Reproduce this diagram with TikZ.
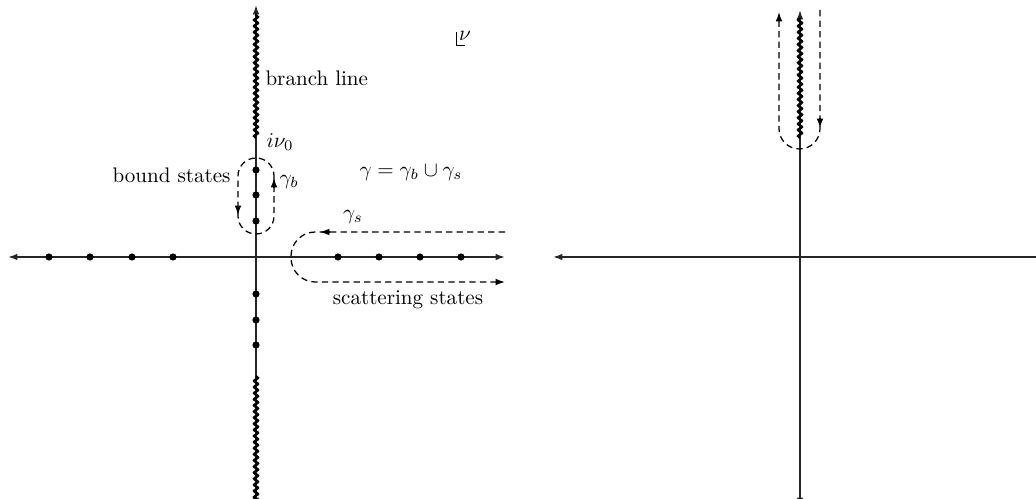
\documentclass[tikz,border=0pt]{standalone}
\usetikzlibrary{arrows.meta,decorations.pathmorphing}
\begin{document}
\begin{tikzpicture}[x=0.4745pt,y=-0.4745pt,
  axis/.style={line width=0.8pt,draw=black!85},
  tip/.style={-{Latex[length=4.5pt,width=3.2pt]}},
  bitip/.style={{Latex[length=4.5pt,width=3.2pt]}-{Latex[length=4.5pt,width=3.2pt]}},
  cut/.style={line width=1.1pt,decorate,decoration={snake,segment length=2.9pt,amplitude=0.95pt}},
  contour/.style={line width=0.6pt,dash pattern=on 3pt off 2pt},
  pole/.style={circle,fill=black,inner sep=0pt,minimum size=3.4pt},
  lbl/.style={inner sep=1pt,font=\normalsize}]
\useasboundingbox (0,0) rectangle (1036,499);

% ---------- left plane ----------
\coordinate (Lw) at (8,257);
\coordinate (Le) at (505,257);
\coordinate (Ln) at (256,5);
\coordinate (Ls) at (256,507);
\draw[axis,bitip] (Lw) -- (Le);
\draw[axis,bitip] (Ls) -- (Ln);
\coordinate (Lcut1a) at (256,138);
\coordinate (Lcut1b) at (256,14);
\coordinate (Lcut2a) at (256,376);
\coordinate (Lcut2b) at (256,502);
\draw[cut] (Lcut1a) -- (Lcut1b);
\draw[cut] (Lcut2a) -- (Lcut2b);

\foreach \x [count=\i] in {49,90,132,173,338,379,420,461}
  \node[pole] (h\i) at (\x,257) {};
\foreach \y [count=\i] in {170,195,221,294,320,345}
  \node[pole] (v\i) at (256,\y) {};

% bound-state loop
\draw[contour,rounded corners=8.5pt] (274,196) -- (274,158) -- (238,158) -- (238,234) -- (274,234) -- cycle;
\coordinate (gbA) at (274,187);
\coordinate (gbB) at (274,178);
\draw[line width=0.6pt,tip] (gbA) -- (gbB);
\coordinate (gbC) at (238,206);
\coordinate (gbD) at (238,215);
\draw[line width=0.6pt,tip] (gbC) -- (gbD);

% scattering contour
\coordinate (gsA) at (505,232);
\coordinate (gsB) at (505,282);
\draw[contour,tip,rounded corners=11.5pt] (gsA) -- (291,232) -- (291,282) -- (gsB);
\coordinate (gsC) at (330,232);
\coordinate (gsD) at (320,232);
\draw[line width=0.6pt,tip] (gsC) -- (gsD);

% labels
\node[lbl,anchor=west] (branch) at (263,78) {branch line};
\node[lbl,anchor=west] (inu) at (264,142) {$i\nu_0$};
\node[lbl,anchor=east] (bound) at (233,175) {bound states};
\node[lbl,anchor=west] (gb) at (277,182) {$\gamma_b$};
\node[lbl] (gam) at (411,173) {$\gamma=\gamma_b\cup\gamma_s$};
\node[lbl] (gs) at (353,217) {$\gamma_s$};
\node[lbl] (scat) at (408,300) {scattering states};
\node[lbl] (nu) at (465,36) {$\nu$};
\coordinate (nuA) at (456,32);
\coordinate (nuB) at (456,45);
\coordinate (nuC) at (465,45);
\draw[line width=0.4pt] (nuA) -- (nuB) -- (nuC);

% ---------- right plane ----------
\coordinate (Rw) at (553,257);
\coordinate (Re) at (1046,257);
\coordinate (Rn) at (800,10);
\coordinate (Rs) at (800,507);
\draw[axis,bitip] (Rw) -- (Re);
\draw[axis,bitip] (Rs) -- (Rn);
\coordinate (Rcuta) at (800,138);
\coordinate (Rcutb) at (800,18);
\draw[cut] (Rcuta) -- (Rcutb);

\coordinate (rcA) at (820,10);
\coordinate (rcB) at (779,12);
\draw[contour,tip,rounded corners=9.7pt] (rcA) -- (820,149) -- (779,149) -- (rcB);
\coordinate (rcC) at (820,118);
\coordinate (rcD) at (820,128);
\draw[line width=0.6pt,tip] (rcC) -- (rcD);
\end{tikzpicture}
\end{document}
